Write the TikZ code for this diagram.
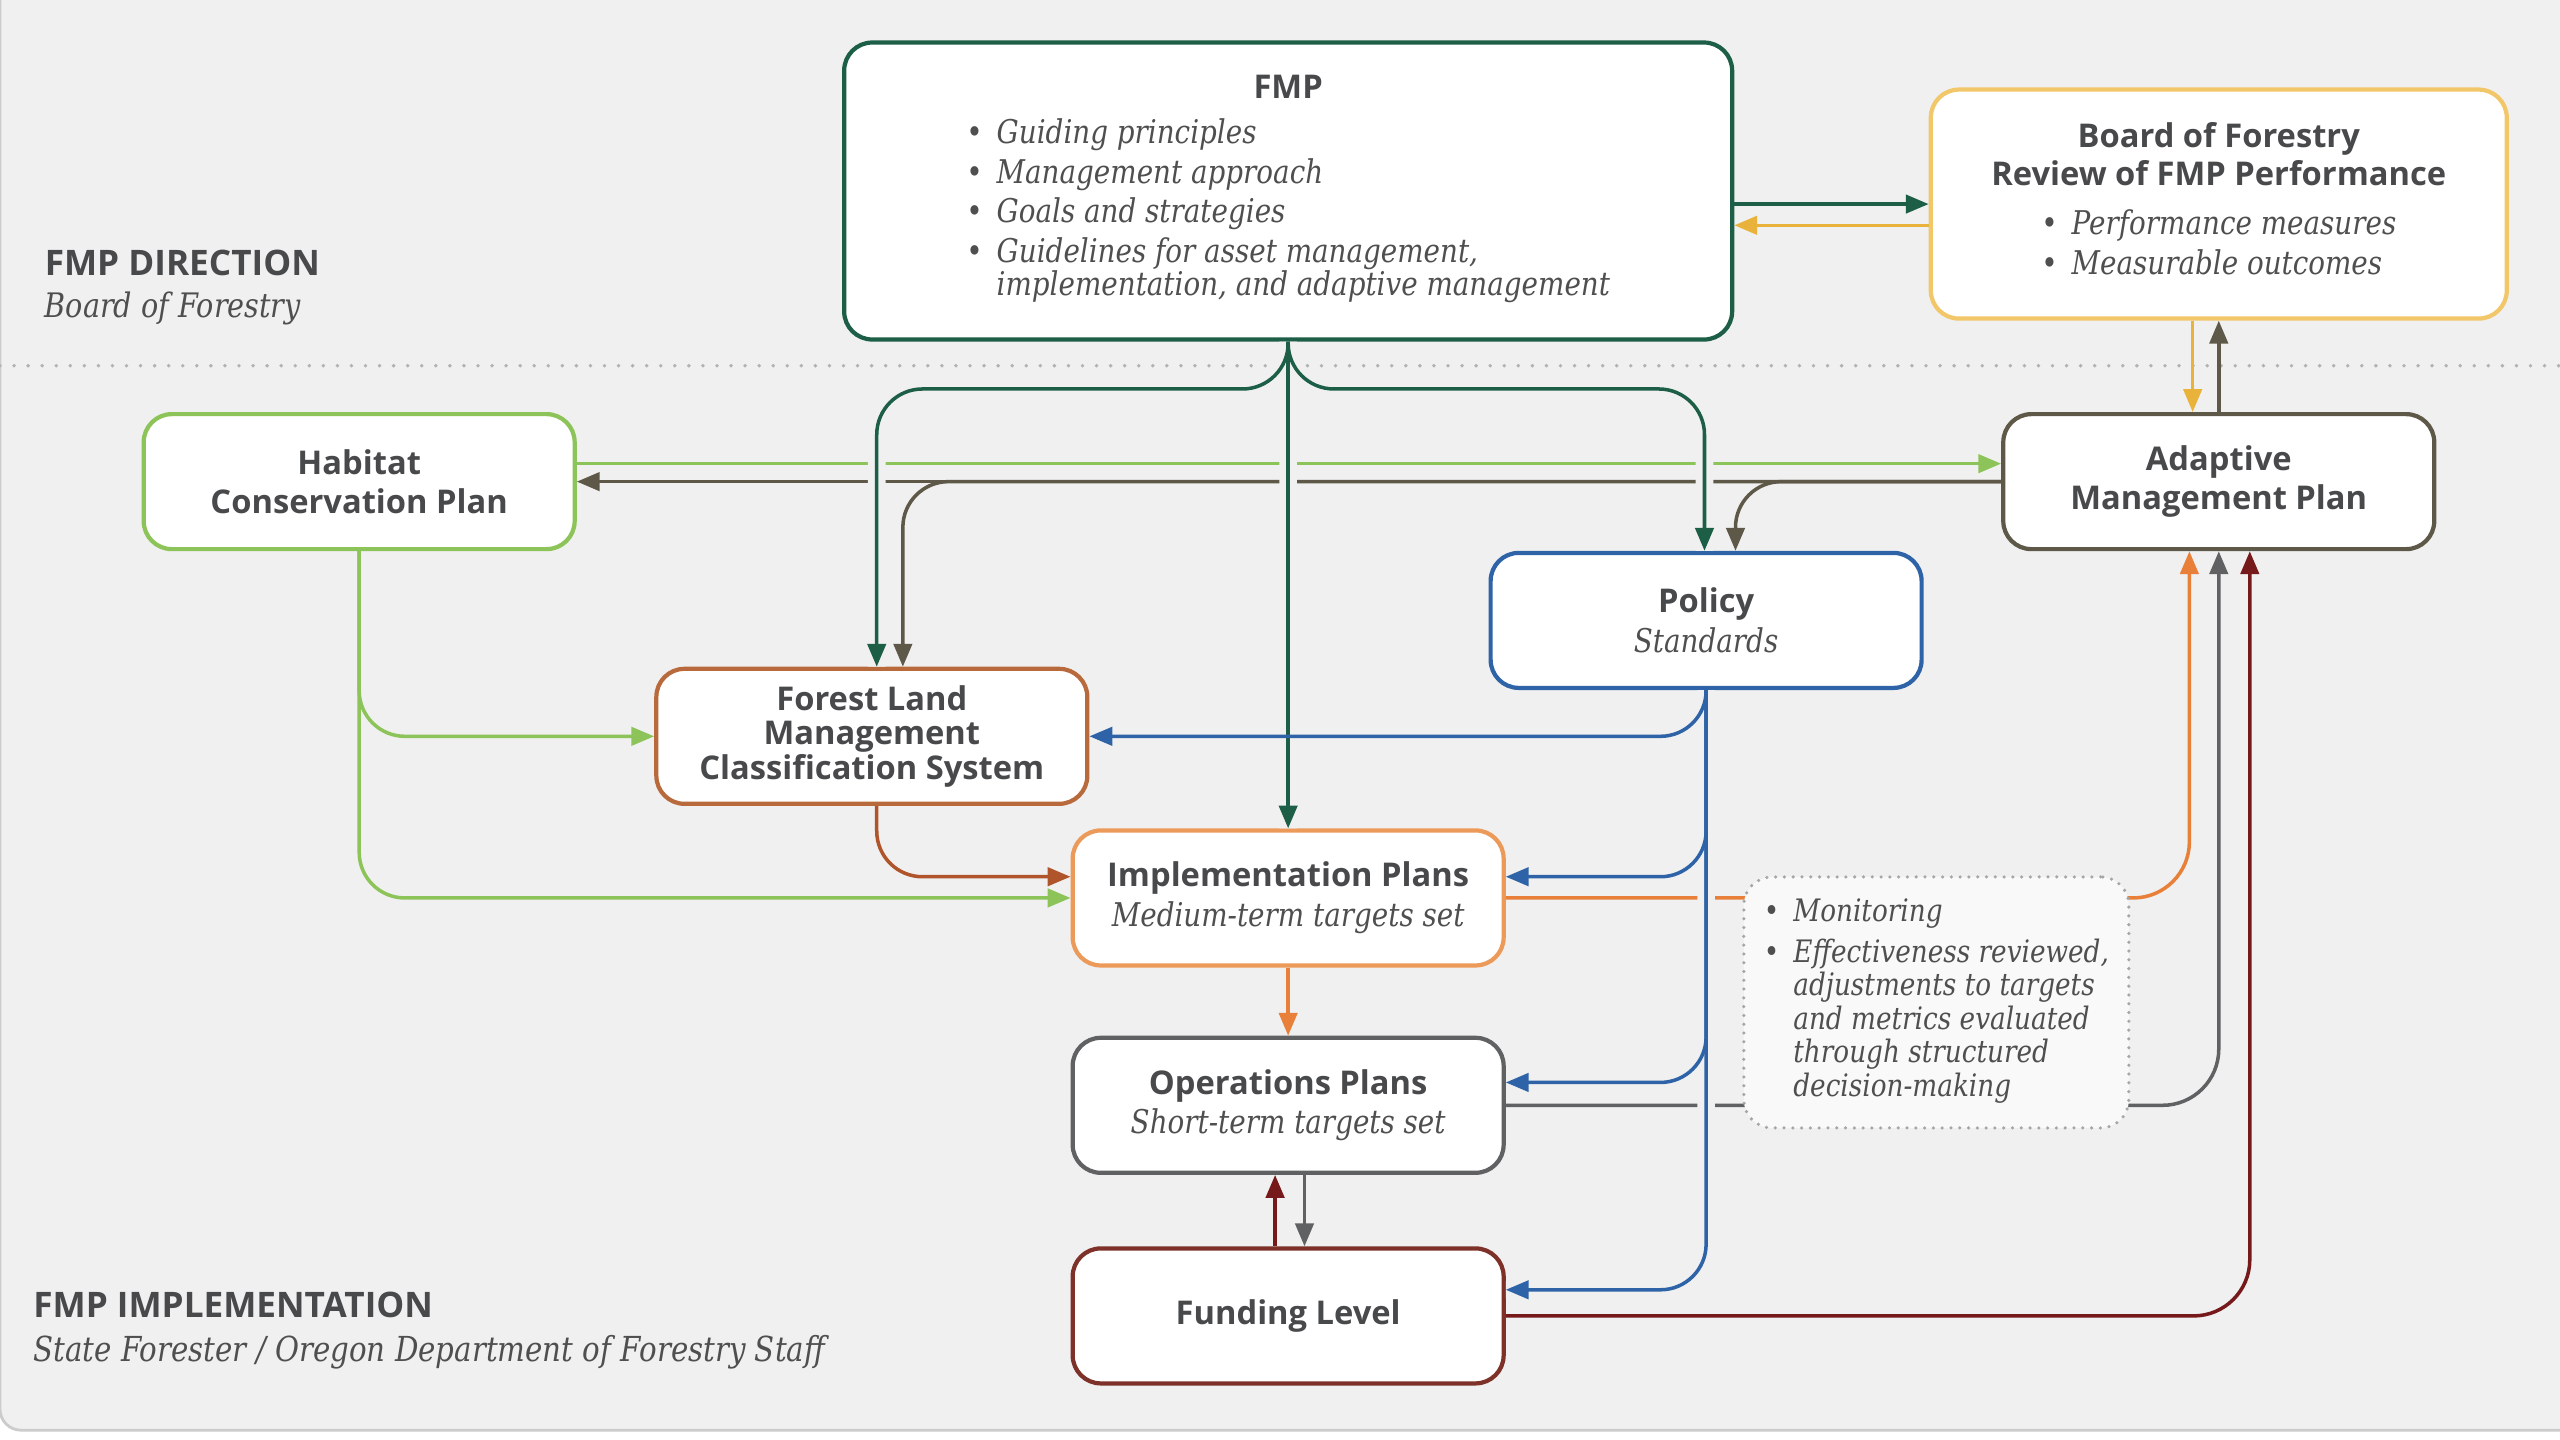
\documentclass[tikz,border=0pt]{standalone}
\usepackage{fontspec}
\setsansfont{Open Sans}
\newfontfamily\slabfont{DejaVu Serif}[FakeStretch=0.85]
\usetikzlibrary{arrows.meta, shapes, positioning, calc}

\definecolor{fondo}{HTML}{F0F0F0}
\definecolor{texto}{HTML}{48494B}
\definecolor{textob}{HTML}{4F4F4F}
\definecolor{cfmp}{HTML}{1D5E46}
\definecolor{cboard}{HTML}{F2C76A}
\definecolor{cboardA}{HTML}{E9B23A}
\definecolor{chcp}{HTML}{8DC45A}
\definecolor{camp}{HTML}{5E5848}
\definecolor{cpol}{HTML}{2F63A8}
\definecolor{cflm}{HTML}{B86A3C}
\definecolor{cflmA}{HTML}{B0552B}
\definecolor{cimpl}{HTML}{EC9A5A}
\definecolor{cimplA}{HTML}{E8803A}
\definecolor{cops}{HTML}{606163}
\definecolor{cfund}{HTML}{7E3128}
\definecolor{cfundA}{HTML}{76191A}

\newcommand{\titulo}[1]{{\sffamily\bfseries\color{texto}#1}}
\newcommand{\cursiva}[1]{{\slabfont\itshape\color{textob}#1}}
\newcommand{\punto}{{\slabfont\color{textob}\textbullet}}

\begin{document}
\begin{tikzpicture}[x=0.016327cm, y=-0.016327cm,
  caja/.style={draw, rounded corners=8pt, fill=white, line width=1.2pt,
    minimum width=4.31cm, minimum height=1.35cm, align=center, inner sep=0pt,
    font=\fontsize{9.3}{11.3}\selectfont},
  flecha/.style={-{Triangle[length=6.5pt,width=5.2pt]}, line width=1pt, rounded corners=13pt},
  hueco/.style={draw=fondo, line width=5pt, rounded corners=13pt}]
\useasboundingbox (0,0) rectangle (1568,882);
\fill[white] (0,0) rectangle (1568,882);
\filldraw[fill=fondo, draw=gray!40, line width=0.8pt, rounded corners=6pt] (0,-20) rectangle (1590,876);
\draw[gray!60, line width=1.1pt, line cap=round, dash pattern=on 0pt off 4pt] (0,224) -- (1568,224);

% Textos
\node[anchor=west, inner sep=0pt, font=\fontsize{10}{11}\selectfont] (dir) at (27,161) {\titulo{FMP DIRECTION}};
\node[anchor=west, inner sep=0pt, font=\fontsize{9.6}{11}\selectfont] (dirb) at (27,189) {\cursiva{Board of Forestry}};
\node[anchor=west, inner sep=0pt, font=\fontsize{10}{11}\selectfont] (imp) at (20,799) {\titulo{FMP IMPLEMENTATION}};
\node[anchor=west, inner sep=0pt, font=\fontsize{9.8}{11}\selectfont] (impb) at (20,828) {\cursiva{State Forester / Oregon Department of Forestry Staff}};

% Nodos
\node[caja, draw=cfmp, minimum width=8.88cm, minimum height=2.97cm] (fmp) at (789,117) {\titulo{FMP}\\[4pt]
  \begin{tabular}{@{}l@{\hspace{4pt}}l@{}}
  \punto & \cursiva{Guiding principles}\\
  \punto & \cursiva{Management approach}\\
  \punto & \cursiva{Goals and strategies}\\
  \punto & \cursiva{Guidelines for asset management,}\\[-2pt]
         & \cursiva{implementation, and adaptive management}
  \end{tabular}};
\node[caja, draw=cboard, minimum width=5.76cm, minimum height=2.29cm] (board) at (1359,125) {\titulo{Board of Forestry}\\[-0.5pt]\titulo{Review of FMP Performance}\\[5pt]
  \begin{tabular}{@{}l@{\hspace{4pt}}l@{}}
  \punto & \cursiva{Performance measures}\\
  \punto & \cursiva{Measurable outcomes}
  \end{tabular}};
\node[caja, draw=chcp] (hcp) at (220,295) {\titulo{Habitat}\\\titulo{Conservation Plan}};
\node[caja, draw=camp] (amp) at (1359,295) {\titulo{Adaptive}\\\titulo{Management Plan}};
\node[caja, draw=cpol] (policy) at (1045,380) {\titulo{Policy}\\\cursiva{Standards}};
\node[caja, draw=cflm] (flmcs) at (534,451) {\titulo{Forest Land}\\[-1.5pt]\titulo{Management}\\[-1.5pt]\titulo{Classification System}};
\node[caja, draw=cimpl] (impl) at (789,550) {\titulo{Implementation Plans}\\\cursiva{Medium-term targets set}};
\node[caja, draw=cops] (ops) at (789,677) {\titulo{Operations Plans}\\\cursiva{Short-term targets set}};
\node[caja, draw=cfund] (funding) at (789,806) {\titulo{Funding Level}};

% Flechas
\coordinate (yb) at ($(board.west)+(0,13)$);
\draw[flecha, cfmp] (fmp.east |- board.west) -- (board.west);
\draw[flecha, cboardA] (yb) -- (fmp.east |- yb);
\draw[flecha, cboardA] ($(board.south)+(-16,0)$) -- ($(amp.north)+(-16,0)$);
\draw[flecha, camp] (amp.north) -- (board.south);

\draw[flecha, chcp] ($(hcp.east)+(0,-11)$) -- ($(amp.west)+(0,-11)$);
\draw[flecha, camp] (amp.west) -- (hcp.east);
\draw[flecha, camp] (amp.west) -| ($(flmcs.north)+(19,0)$);
\draw[flecha, camp] (amp.west) -| ($(policy.north)+(18,0)$);

\draw[hueco] (fmp.south) -- (impl.north) (fmp.south) -- ++(0,29) -| ($(flmcs.north)+(3,0)$) (fmp.south) -- ++(0,29) -| ($(policy.north)+(-1,0)$);
\draw[flecha, cfmp] (fmp.south) -- (impl.north);
\draw[flecha, cfmp] (fmp.south) -- ++(0,29) -| ($(flmcs.north)+(3,0)$);
\draw[flecha, cfmp] (fmp.south) -- ++(0,29) -| ($(policy.north)+(-1,0)$);

\draw[flecha, chcp] (hcp.south) |- (flmcs.west);
\draw[flecha, chcp] (hcp.south) |- (impl.west);
\draw[flecha, cflmA] ($(flmcs.south)+(3,0)$) |- ($(impl.west)+(0,-13)$);

\draw[flecha, cimplA] (impl.south) -- (ops.north);
\draw[flecha, cfundA] ($(funding.north)+(-8,0)$) -- ($(ops.south)+(-8,0)$);
\draw[flecha, cops] ($(ops.south)+(10,0)$) -- ($(funding.north)+(10,0)$);

\draw[flecha, cimplA, rounded corners=16pt] (impl.east) -| ($(amp.south)+(-18,0)$);
\draw[flecha, cops, rounded corners=16pt] (ops.east) -| (amp.south);
\draw[flecha, cfundA, rounded corners=16pt] (funding.east) -| ($(amp.south)+(19,0)$);

\draw[hueco] (policy.south) |- ($(funding.east)+(0,-16)$);
\draw[flecha, cpol] (policy.south) |- (flmcs.east);
\draw[flecha, cpol] (policy.south) |- ($(impl.east)+(0,-13)$);
\draw[flecha, cpol] (policy.south) |- ($(ops.east)+(0,-14)$);
\draw[flecha, cpol] (policy.south) |- ($(funding.east)+(0,-16)$);

% Monitoreo
\node[caja, draw=gray!70, fill=white!60!fondo, line width=1pt, line cap=round, dash pattern=on 0pt off 2.5pt,
  minimum width=3.85cm, minimum height=2.51cm, font=\fontsize{8.8}{9.5}\selectfont] (monit) at (1186,614) {
  \begin{tabular}{@{}l@{\hspace{4pt}}l@{}}
  \punto & \cursiva{Monitoring}\\[2pt]
  \punto & \cursiva{Effectiveness reviewed,}\\
         & \cursiva{adjustments to targets}\\
         & \cursiva{and metrics evaluated}\\
         & \cursiva{through structured}\\
         & \cursiva{decision-making}
  \end{tabular}};
\end{tikzpicture}
\end{document}
